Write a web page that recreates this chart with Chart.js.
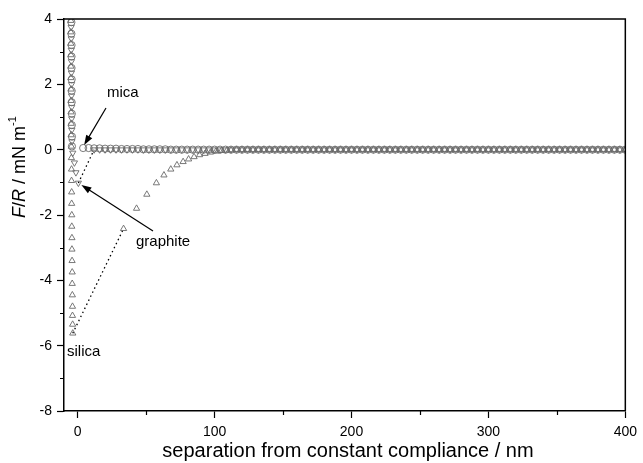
<!DOCTYPE html>
<html>
<head>
<meta charset="utf-8">
<script src="https://cdn.jsdelivr.net/npm/chart.js@4.4.0/dist/chart.umd.min.js"></script>
<style>
  html, body { margin: 0; background: #fff; }
  canvas { display: block; }
</style>
</head>
<body>
<canvas id="afm" width="643" height="463"></canvas>
<script>
// force / radius vs separation, three surfaces

const sepTicks = [0, 100, 200, 300, 400];
const sepMinor = [50, 150, 250, 350];
const forceTicks = [-8, -6, -4, -2, 0, 2, 4];
const forceMinor = [-7, -5, -3, -1, 1, 3];

// flat tail shared by all three surfaces (no interaction)
const tailX = [116, 120, 124, 128, 132, 136, 140, 144, 148, 152, 156, 160,
  164, 168, 172, 176, 180, 184, 188, 192, 196, 200, 204, 208,
  212, 216, 220, 224, 228, 232, 236, 240, 244, 248, 252, 256,
  260, 264, 268, 272, 276, 280, 284, 288, 292, 296, 300, 304,
  308, 312, 316, 320, 324, 328, 332, 336, 340, 344, 348, 352,
  356, 360, 364, 368, 372, 376, 380, 384, 388, 392, 396, 400];
const tailF = [0, 0, 0, 0, 0, 0, 0, 0, 0, 0, 0, 0,
  0, 0, 0, 0, 0, 0, 0, 0, 0, 0, 0, 0,
  0, 0, 0, 0, 0, 0, 0, 0, 0, 0, 0, 0,
  0, 0, 0, 0, 0, 0, 0, 0, 0, 0, 0, 0,
  0, 0, 0, 0, 0, 0, 0, 0, 0, 0, 0, 0,
  0, 0, 0, 0, 0, 0, 0, 0, 0, 0, 0, 0];

// mica
const micaContactX = [-4.6, -4.6, -4.5, -4.5, -4.5, -4.4, -4.4, -4.4, -4.3, -4.3, -4.2, -4.2];
const micaContactF = [3.9, 3.55, 3.2, 2.85, 2.5, 2.15, 1.8, 1.45, 1.1, 0.75, 0.4, 0.1];
const micaFreeX = [4, 8, 12, 16, 20, 24, 28, 32, 36, 40, 44, 48, 52, 56,
  60, 64, 68, 72, 76, 80, 84, 88, 92, 96, 100, 104, 108, 112];
const micaFreeF = [0.05, 0.05, 0.04, 0.04, 0.03, 0.03, 0.03, 0.02, 0.02, 0.02, 0.02, 0.01, 0.01, 0.01,
  0.01, 0.01, 0, 0, 0, 0, 0, 0, 0, 0, 0, 0, 0, 0];

// graphite
const graphiteContactX = [-4.8, -4.7, -4.7, -4.6, -4.6, -4.5, -4.5, -4.4, -4.4, -4.3, -4.2, -3.6, -2.4, -1.3, 0.5];
const graphiteContactF = [3.75, 3.4, 3.05, 2.7, 2.35, 2.0, 1.65, 1.3, 0.95, 0.6, 0.25, -0.1, -0.4, -0.7, -1.02];
const graphiteFreeX = [12, 16, 20, 24, 28, 32, 36, 40, 44, 48, 52, 56, 60,
  64, 68, 72, 76, 80, 84, 88, 92, 96, 100, 104, 108, 112];
const graphiteFreeF = [0, 0, 0, 0, 0, 0, 0, 0, 0, 0, 0, 0, 0,
  0, 0, 0, 0, 0, 0, 0, 0, 0, 0, 0, 0, 0];

// silica
const silicaContactX = [-5.0, -5.0, -5.0, -4.9, -4.9, -4.9, -4.8, -4.8, -4.8, -4.7,
  -4.7, -4.6, -4.6, -4.5, -4.5, -4.4, -4.4, -4.3, -4.3, -4.2,
  -4.2, -4.1, -4.0, -4.0, -3.9, -3.8, -3.8, -3.7, -3.6];
const silicaContactF = [3.95, 3.6, 3.25, 2.9, 2.55, 2.2, 1.85, 1.5, 1.15, 0.8,
  0.45, 0.1, -0.25, -0.6, -0.95, -1.3, -1.65, -2.0, -2.35, -2.7,
  -3.05, -3.4, -3.75, -4.1, -4.45, -4.8, -5.08, -5.35, -5.62];
const silicaFreeX = [33.5, 43, 50.5, 57.5, 63, 68, 72.5, 77, 81, 85, 89, 93, 97, 101, 105, 109, 112];
const silicaFreeF = [-2.42, -1.8, -1.37, -1.02, -0.78, -0.6, -0.47, -0.37, -0.29, -0.22,
  -0.16, -0.12, -0.08, -0.05, -0.03, -0.02, -0.01];

function toPoints(xs, fs) {
  return xs.map((v, i) => ({ x: v, y: fs[i] }));
}

const micaData = toPoints([...micaContactX, ...micaFreeX, ...tailX], [...micaContactF, ...micaFreeF, ...tailF]);
const graphiteData = toPoints([...graphiteContactX, ...graphiteFreeX, ...tailX], [...graphiteContactF, ...graphiteFreeF, ...tailF]);
const silicaData = toPoints([...silicaContactX, ...silicaFreeX, ...tailX], [...silicaContactF, ...silicaFreeF, ...tailF]);

// dotted jump-out line only between last contact point and first free point
function jumpSegment(jump) {
  return {
    borderColor: c => c.p0DataIndex === jump ? '#000' : 'rgba(0,0,0,0)',
    borderDash: c => c.p0DataIndex === jump ? [1.5, 3] : undefined
  };
}

const FONT = "'Liberation Sans', Arial, sans-serif";
const markerGrey = '#6a6a6a';

function arrow(ctx, x1, y1, x2, y2) {
  const ang = Math.atan2(y2 - y1, x2 - x1);
  const len = 10, half = 3.5;
  ctx.beginPath();
  ctx.moveTo(x1, y1);
  ctx.lineTo(x2 - Math.cos(ang) * len * 0.8, y2 - Math.sin(ang) * len * 0.8);
  ctx.stroke();
  ctx.beginPath();
  ctx.moveTo(x2, y2);
  ctx.lineTo(x2 - Math.cos(ang) * len - Math.sin(ang) * half, y2 - Math.sin(ang) * len + Math.cos(ang) * half);
  ctx.lineTo(x2 - Math.cos(ang) * len + Math.sin(ang) * half, y2 - Math.sin(ang) * len - Math.cos(ang) * half);
  ctx.closePath();
  ctx.fill();
}

const decorations = {
  id: 'decorations',
  afterDraw(chart) {
    const { ctx, chartArea: a, scales: { x, y } } = chart;
    ctx.save();
    ctx.strokeStyle = '#000';
    ctx.fillStyle = '#000';

    // box top + right
    ctx.lineWidth = 1.5;
    ctx.beginPath();
    ctx.moveTo(a.left, a.top);
    ctx.lineTo(a.right, a.top);
    ctx.lineTo(a.right, a.bottom);
    ctx.stroke();

    // minor ticks
    ctx.lineWidth = 1.2;
    ctx.beginPath();
    sepMinor.forEach(v => {
      const px = Math.round(x.getPixelForValue(v)) + 0.5;
      ctx.moveTo(px, a.bottom);
      ctx.lineTo(px, a.bottom + 4);
    });
    forceMinor.forEach(v => {
      const py = Math.round(y.getPixelForValue(v)) + 0.5;
      ctx.moveTo(a.left, py);
      ctx.lineTo(a.left - 4, py);
    });
    ctx.stroke();

    // x title
    ctx.font = '20px ' + FONT;
    ctx.textAlign = 'center';
    ctx.textBaseline = 'middle';
    ctx.fillText('separation from constant compliance / nm', 348, 451);

    // y title: F/R / mN m-1 with italic F and R
    const parts = [
      ['F', 'italic 18px ' + FONT, 0],
      ['/', '18px ' + FONT, 0],
      ['R', 'italic 18px ' + FONT, 0],
      [' / mN m', '18px ' + FONT, 0],
      ['-1', '11px ' + FONT, -7]
    ];
    let total = 0;
    parts.forEach(p => { ctx.font = p[1]; total += ctx.measureText(p[0]).width; });
    ctx.translate(20, 167);
    ctx.rotate(-Math.PI / 2);
    ctx.textAlign = 'left';
    let cx = -total / 2;
    parts.forEach(p => {
      ctx.font = p[1];
      ctx.fillText(p[0], cx, p[2]);
      cx += ctx.measureText(p[0]).width;
    });
    ctx.setTransform(1, 0, 0, 1, 0, 0);

    // labels and arrows
    ctx.font = '15px ' + FONT;
    ctx.textAlign = 'left';
    ctx.textBaseline = 'middle';
    ctx.fillText('mica', 107, 93);
    ctx.fillText('graphite', 136, 242);
    ctx.fillText('silica', 67, 352);
    ctx.lineWidth = 1.2;
    arrow(ctx, 106, 108, x.getPixelForValue(micaFreeX[0]) + 1, y.getPixelForValue(micaFreeF[0]) - 3);
    arrow(ctx, 153, 231, x.getPixelForValue(graphiteContactX[graphiteContactX.length - 1]) + 3,
      y.getPixelForValue(graphiteContactF[graphiteContactF.length - 1]) + 2);
    ctx.restore();
  }
};

const common = {
  showLine: true,
  borderWidth: 1.3,
  pointRadius: 3.6,
  pointBorderWidth: 0.9,
  pointBorderColor: markerGrey,
  pointBackgroundColor: 'rgba(0,0,0,0)',
  pointHoverRadius: 3.6
};

new Chart(document.getElementById('afm'), {
  type: 'scatter',
  data: {
    datasets: [
      Object.assign({ label: 'mica', data: micaData, pointStyle: 'circle',
        segment: jumpSegment(-1) }, common),
      Object.assign({ label: 'graphite', data: graphiteData, pointStyle: 'triangle', pointRotation: 180,
        segment: jumpSegment(graphiteContactX.length - 1) }, common),
      Object.assign({ label: 'silica', data: silicaData, pointStyle: 'triangle',
        segment: jumpSegment(silicaContactX.length - 1) }, common)
    ]
  },
  options: {
    responsive: false,
    devicePixelRatio: 1,
    animation: false,
    events: [],
    layout: { padding: { left: 0, right: 15, top: 19, bottom: 0 } },
    plugins: { legend: { display: false }, tooltip: { enabled: false } },
    scales: {
      x: {
        type: 'linear',
        min: -10,
        max: 400,
        afterBuildTicks: s => { s.ticks = sepTicks.map(v => ({ value: v })); },
        afterFit: s => { s.height = 52; },
        ticks: { color: '#000', font: { family: FONT, size: 14 }, padding: 6, maxRotation: 0 },
        grid: { drawOnChartArea: false, tickLength: 7, tickWidth: 1.2, tickColor: '#000' },
        border: { color: '#000', width: 1.5 }
      },
      y: {
        type: 'linear',
        min: -8,
        max: 4,
        afterBuildTicks: s => { s.ticks = forceTicks.map(v => ({ value: v })); },
        afterFit: s => { s.width = 64; },
        ticks: { color: '#000', font: { family: FONT, size: 14 }, padding: 5 },
        grid: { drawOnChartArea: false, tickLength: 7, tickWidth: 1.2, tickColor: '#000' },
        border: { color: '#000', width: 1.5 }
      }
    }
  },
  plugins: [decorations]
});
</script>
</body>
</html>
